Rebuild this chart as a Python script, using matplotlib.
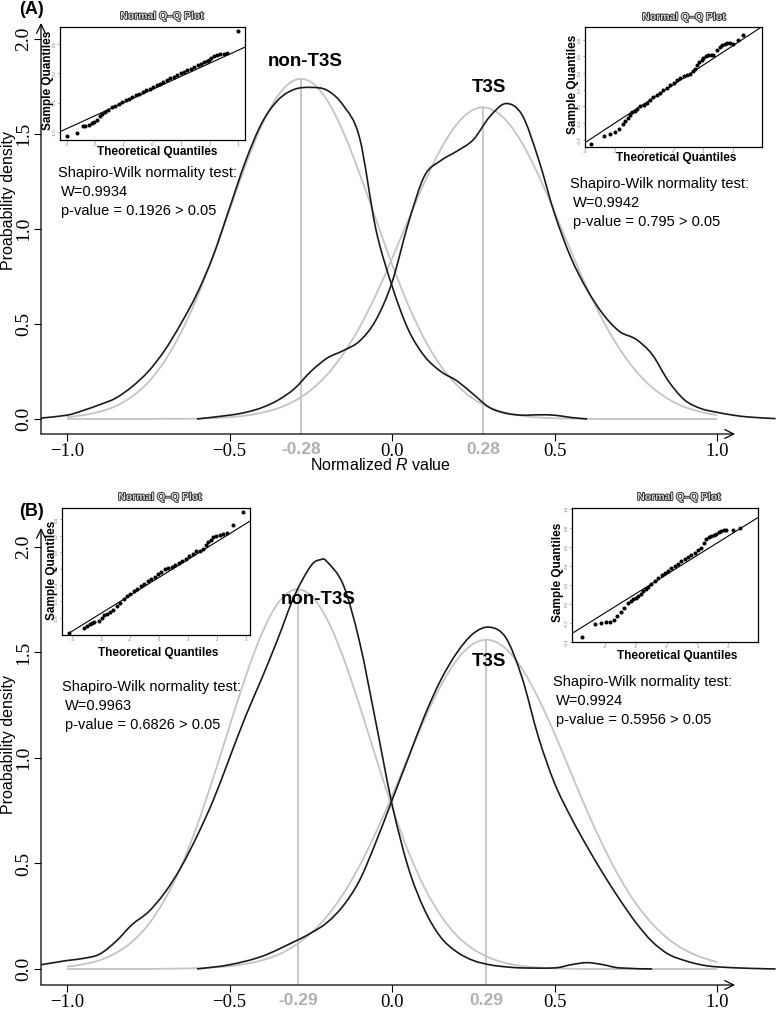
import matplotlib
matplotlib.use('Agg')
import matplotlib.pyplot as plt
import matplotlib.patheffects as pe
from matplotlib.path import Path
from matplotlib.patches import PathPatch

plt.rcParams['font.family'] = ['Liberation Sans', 'DejaVu Sans']
plt.rcParams['mathtext.fontset'] = 'custom'
plt.rcParams['mathtext.it'] = 'Liberation Sans:italic'
plt.rcParams['mathtext.rm'] = 'Liberation Sans'

W, H = 776, 1011

# ---------------- data ----------------
grid = [-1.0, -0.95, -0.9, -0.85, -0.8, -0.75, -0.7, -0.65, -0.6, -0.55, -0.5,
        -0.45, -0.4, -0.35, -0.3, -0.25, -0.2, -0.15, -0.1, -0.05, 0.0,
        0.05, 0.1, 0.15, 0.2, 0.25, 0.3, 0.35, 0.4, 0.45, 0.5,
        0.55, 0.6, 0.65, 0.7, 0.75, 0.8, 0.85, 0.9, 0.95, 1.0]

# panel A: fitted normal curves (grey)
a_norm_non = [0.01, 0.02, 0.038, 0.068, 0.118, 0.194, 0.304, 0.452, 0.639, 0.86, 1.10,
              1.339, 1.549, 1.704, 1.783, 1.774, 1.678, 1.51, 1.292, 1.052, 0.814,
              0.599, 0.419, 0.279, 0.177, 0.106, 0.061, 0.033, 0.017, 0.008, 0.004,
              0.002, 0.001, 0, 0, 0, 0, 0, 0, 0, 0]
a_norm_t3s = [0, 0, 0, 0, 0, 0, 0.001, 0.001, 0.002, 0.005, 0.0095,
              0.018, 0.033, 0.057, 0.095, 0.152, 0.233, 0.343, 0.483, 0.652, 0.845,
              1.048, 1.246, 1.421, 1.553, 1.628, 1.634, 1.573, 1.452, 1.284, 1.089,
              0.885, 0.689, 0.514, 0.369, 0.253, 0.166, 0.105, 0.063, 0.037, 0.020]
# panel A: kernel densities (black)
a_kde_non_x = [-1.08, -1.0, -0.95, -0.9, -0.85, -0.8, -0.75, -0.7, -0.65, -0.6, -0.55,
               -0.5, -0.45, -0.4, -0.35, -0.3, -0.25, -0.2, -0.15, -0.1, -0.05, 0.0,
               0.05, 0.1, 0.15, 0.2, 0.25, 0.3, 0.35, 0.4, 0.45, 0.5, 0.55, 0.6]
a_kde_non_y = [0.005, 0.02, 0.045, 0.075, 0.11, 0.17, 0.25, 0.36, 0.50, 0.66, 0.86,
               1.11, 1.36, 1.56, 1.68, 1.735, 1.745, 1.73, 1.65, 1.48, 1.0, 0.7,
               0.47, 0.33, 0.25, 0.2, 0.13, 0.06, 0.03, 0.02, 0.022, 0.02, 0.008, 0.0]
a_kde_t3s_x = [-0.6, -0.5, -0.45, -0.4, -0.35, -0.3, -0.25, -0.2, -0.15, -0.1, -0.05, 0.0,
               0.05, 0.1, 0.15, 0.2, 0.25, 0.3, 0.35, 0.4, 0.45, 0.5, 0.55, 0.6, 0.65,
               0.7, 0.75, 0.8, 0.85, 0.9, 0.95, 1.0, 1.05, 1.1, 1.18]
a_kde_t3s_y = [0.0, 0.02, 0.035, 0.06, 0.1, 0.16, 0.25, 0.32, 0.36, 0.41, 0.52, 0.72,
               1.03, 1.28, 1.36, 1.41, 1.47, 1.59, 1.66, 1.6, 1.37, 1.08, 0.85, 0.68, 0.55,
               0.46, 0.42, 0.34, 0.2, 0.10, 0.055, 0.035, 0.02, 0.01, 0.002]
a_means = [-0.28, 0.28]
a_peaks = [1.79, 1.64]

# panel B
b_norm_non = [0.011, 0.022, 0.041, 0.075, 0.129, 0.210, 0.327, 0.482, 0.679, 0.907, 1.150,
              1.388, 1.592, 1.736, 1.798, 1.771, 1.658, 1.476, 1.248, 1.004, 0.767,
              0.557, 0.385, 0.253, 0.157, 0.094, 0.053, 0.028, 0.014, 0.007, 0.003,
              0.001, 0, 0, 0, 0, 0, 0, 0, 0, 0]
b_norm_t3s = [0, 0, 0, 0, 0, 0, 0.001, 0.002, 0.004, 0.007, 0.013,
              0.024, 0.041, 0.068, 0.110, 0.169, 0.250, 0.356, 0.489, 0.646, 0.821,
              1.005, 1.184, 1.343, 1.466, 1.541, 1.559, 1.518, 1.423, 1.283, 1.115,
              0.931, 0.749, 0.581, 0.433, 0.311, 0.215, 0.142, 0.091, 0.056, 0.033]
b_kde_non_x = [-1.08, -1.0, -0.95, -0.9, -0.85, -0.8, -0.75, -0.7, -0.65, -0.6,
               -0.55, -0.5, -0.45, -0.4, -0.35, -0.3, -0.25, -0.22, -0.2, -0.15,
               -0.1, -0.05, 0.0, 0.05, 0.1, 0.15, 0.2, 0.25, 0.3, 0.35,
               0.4, 0.5, 0.55, 0.6, 0.65, 0.7, 0.8]
b_kde_non_y = [0.02, 0.04, 0.05, 0.07, 0.13, 0.21, 0.27, 0.36, 0.48, 0.63,
               0.8, 1.0, 1.2, 1.38, 1.57, 1.77, 1.91, 1.94, 1.93, 1.82,
               1.55, 1.17, 0.78, 0.48, 0.28, 0.15, 0.08, 0.04, 0.02, 0.01,
               0.005, 0.005, 0.02, 0.03, 0.02, 0.005, 0.0]
b_kde_t3s_x = [-0.6, -0.5, -0.4, -0.3, -0.25, -0.2, -0.15, -0.1, -0.05,
               0.0, 0.05, 0.1, 0.15, 0.2, 0.25, 0.3, 0.35, 0.4, 0.45, 0.5,
               0.55, 0.6, 0.65, 0.7, 0.75, 0.8, 0.85, 0.9, 0.95, 1.0, 1.1, 1.18]
b_kde_t3s_y = [0.0, 0.02, 0.06, 0.13, 0.17, 0.22, 0.3, 0.42, 0.6,
               0.8, 1.0, 1.2, 1.37, 1.5, 1.59, 1.62, 1.57, 1.38, 1.1, 0.88,
               0.72, 0.58, 0.45, 0.33, 0.22, 0.13, 0.07, 0.04, 0.02, 0.01, 0.003, 0.0]
b_means = [-0.29, 0.29]
b_peaks = [1.80, 1.56]

# Q-Q plots: theoretical quantiles / sample quantiles
qa_non_t = [-3.0, -2.63, -2.44, -2.34, -2.22, -2.13, -2.03, -1.95, -1.84, -1.75,
            -1.66, -1.54, -1.43, -1.3, -1.18, -1.06, -0.94, -0.82, -0.7, -0.58,
            -0.46, -0.34, -0.22, -0.1, 0.02, 0.14, 0.26, 0.38, 0.5, 0.62,
            0.74, 0.86, 0.98, 1.1, 1.22, 1.34, 1.46, 1.58, 1.7,
            1.8, 1.9, 1.98, 2.06, 2.15, 2.25, 2.36, 2.48, 2.59, 2.98]
qa_non_s = [-1.06, -1.02, -0.89, -0.885, -0.875, -0.85, -0.82, -0.79, -0.73, -0.69,
            -0.65, -0.615, -0.58, -0.55, -0.52, -0.49, -0.46, -0.435, -0.405, -0.375,
            -0.35, -0.32, -0.29, -0.26, -0.235, -0.205, -0.175, -0.15, -0.12, -0.09,
            -0.065, -0.035, -0.005, 0.02, 0.05, 0.075, 0.10, 0.13, 0.16,
            0.18, 0.2, 0.22, 0.25, 0.29, 0.31, 0.32, 0.33, 0.34, 0.72]
qa_t3s_t = [-2.79, -2.36, -2.14, -2.0, -1.86, -1.71, -1.63, -1.55, -1.48, -1.41,
            -1.32, -1.24, -1.12, -1.01, -0.9, -0.79, -0.68, -0.56, -0.45, -0.34,
            -0.22, -0.11, 0.0, 0.11, 0.22, 0.34, 0.45, 0.56, 0.65, 0.73,
            0.8, 0.88, 0.95, 1.01, 1.1, 1.18, 1.27, 1.35, 1.46, 1.58,
            1.66, 1.75, 1.83, 1.91, 2.03, 2.2, 2.36]
qa_t3s_s = [-0.455, -0.35, -0.33, -0.31, -0.27, -0.21, -0.175, -0.14, -0.1, -0.07,
            -0.05, -0.03, 0.0, 0.01, 0.045, 0.08, 0.11, 0.14, 0.165, 0.19,
            0.225, 0.26, 0.285, 0.31, 0.335, 0.36, 0.375, 0.39, 0.42, 0.45,
            0.49, 0.53, 0.555, 0.58, 0.6, 0.61, 0.615, 0.62, 0.67, 0.71,
            0.73, 0.75, 0.755, 0.76, 0.75, 0.8, 0.85]
qb_non_t = [-3.13, -2.61, -2.48, -2.40, -2.33, -2.26, -2.09, -1.99, -1.92,
            -1.8, -1.69, -1.58, -1.46, -1.35, -1.23, -1.11, -1.0, -0.88, -0.76,
            -0.64, -0.52, -0.4, -0.28, -0.16, -0.04, 0.08, 0.2, 0.32, 0.44,
            0.56, 0.68, 0.8, 0.92, 1.04, 1.16, 1.28, 1.4,
            1.53, 1.62, 1.70, 1.78, 1.87, 1.96, 2.10, 2.2, 2.33, 2.56, 2.91]
qb_non_s = [-0.99, -0.93, -0.9, -0.87, -0.86, -0.85, -0.84, -0.8, -0.77,
            -0.75, -0.73, -0.70, -0.66, -0.615, -0.57, -0.535, -0.505, -0.475, -0.445,
            -0.415, -0.385, -0.355, -0.325, -0.3, -0.27, -0.24, -0.21, -0.19, -0.175,
            -0.155, -0.13, -0.11, -0.08, -0.05, -0.02, 0.01, 0.02,
            0.04, 0.09, 0.13, 0.15, 0.18, 0.2, 0.21, 0.22, 0.24, 0.33, 0.49]
qb_t3s_t = [-2.74, -2.31, -2.13, -1.96, -1.83, -1.70, -1.59, -1.48, -1.38, -1.24,
            -1.16, -1.08, -1.0, -0.91, -0.84, -0.77, -0.68, -0.59, -0.49, -0.38,
            -0.27, -0.16, -0.05, 0.05, 0.16, 0.27, 0.37, 0.48, 0.59, 0.70,
            0.8, 0.91, 1.02, 1.13, 1.21, 1.29, 1.37, 1.45, 1.53, 1.61,
            1.69, 1.77, 1.85, 1.94, 2.15, 2.37]
qb_t3s_s = [-0.35, -0.21, -0.20, -0.19, -0.19, -0.17, -0.13, -0.08, -0.04, 0.01,
            0.03, 0.05, 0.065, 0.08, 0.11, 0.14, 0.16, 0.18, 0.21, 0.24,
            0.275, 0.31, 0.33, 0.35, 0.375, 0.40, 0.425, 0.45, 0.47, 0.49,
            0.515, 0.54, 0.565, 0.59, 0.64, 0.68, 0.70, 0.72, 0.73, 0.74,
            0.755, 0.77, 0.775, 0.78, 0.78, 0.80]

sw_texts = {
    'A_left': ['Shapiro-Wilk normality test:', 'W=0.9934', 'p-value = 0.1926 > 0.05'],
    'A_right': ['Shapiro-Wilk normality test:', 'W=0.9942', 'p-value = 0.795 > 0.05'],
    'B_left': ['Shapiro-Wilk normality test:', 'W=0.9963', 'p-value = 0.6826 > 0.05'],
    'B_right': ['Shapiro-Wilk normality test:', 'W=0.9924', 'p-value = 0.5956 > 0.05'],
}

GREY = '#c4c4c4'
BLACK = '#1a1a1a'
SERIF = 'Liberation Serif'

fig = plt.figure(figsize=(W / 100, H / 100), dpi=100)


def px_axes(l, t, r, b):
    return fig.add_axes([l / W, 1 - b / H, (r - l) / W, (b - t) / H])


def ftext(x, y, s, **kw):
    fig.text(x / W, 1 - y / H, s, **kw)


def smooth_curve(ax, xs, ys, **kw):
    # draw a smooth curve through the points (Catmull-Rom as cubic Bezier)
    pts = list(zip(xs, ys))
    verts = [pts[0]]
    codes = [Path.MOVETO]
    n = len(pts)
    for i in range(n - 1):
        p0 = pts[max(i - 1, 0)]
        p1 = pts[i]
        p2 = pts[i + 1]
        p3 = pts[min(i + 2, n - 1)]
        c1 = (p1[0] + (p2[0] - p0[0]) / 6, p1[1] + (p2[1] - p0[1]) / 6)
        c2 = (p2[0] - (p3[0] - p1[0]) / 6, p2[1] - (p3[1] - p1[1]) / 6)
        verts += [c1, c2, p2]
        codes += [Path.CURVE4] * 3
    ax.add_patch(PathPatch(Path(verts, codes), fill=False, **kw))


def density_panel(ax, ylim, norm_non, norm_t3s, kde, means, peaks, mlabels):
    ax.set_xlim(-1.08, 1.055)
    ax.set_ylim(*ylim)
    for sp in ax.spines.values():
        sp.set_visible(False)
    ax.annotate('', xy=(1, 0), xytext=(0, 0), xycoords='axes fraction',
                arrowprops=dict(arrowstyle='->', lw=0.9, color='black',
                                shrinkA=0, shrinkB=0, mutation_scale=16))
    ax.annotate('', xy=(0, 1), xytext=(0, 0), xycoords='axes fraction',
                arrowprops=dict(arrowstyle='->', lw=0.9, color='black',
                                shrinkA=0, shrinkB=0, mutation_scale=16))
    for m, p in zip(means, peaks):
        ax.plot([m, m], [ylim[0], p], color=GREY, lw=1.3, zorder=1)
    smooth_curve(ax, grid, norm_non, edgecolor=GREY, lw=1.3, zorder=2)
    smooth_curve(ax, grid, norm_t3s, edgecolor=GREY, lw=1.3, zorder=2)
    for xs, ys in kde:
        smooth_curve(ax, xs, ys, edgecolor=BLACK, lw=1.2, zorder=3, clip_on=False)
    xt = [-1.0, -0.5, 0.0, 0.5, 1.0]
    ax.set_xticks(xt, ['\u22121.0', '\u22120.5', '0.0', '0.5', '1.0'],
                  fontfamily=SERIF, fontsize=13.5)
    yt = [0.0, 0.5, 1.0, 1.5, 2.0]
    ax.set_yticks(yt, ['0.0', '0.5', '1.0', '1.5', '2.0'], fontfamily=SERIF,
                  fontsize=14, rotation=90, va='center')
    ax.tick_params(direction='out', length=5, width=0.8, pad=1.5)
    for m, lab in zip(means, mlabels):
        ax.annotate(lab, xy=(m, 0), xycoords=('data', 'axes fraction'),
                    xytext=(0, -11.5), textcoords='offset points',
                    ha='center', va='center', fontsize=12.5, fontweight='bold',
                    color='#b0b0b0')
    ax.patch.set_alpha(0)


def qq_inset(box, t, s, xlim, ylim, line, xt, yt):
    ax = px_axes(*box)
    ax.plot(line[0], line[1], color='black', lw=0.8)
    ax.plot(t, s, 'o', color='black', ms=2.9, mew=0)
    ax.set_xlim(*xlim)
    ax.set_ylim(*ylim)
    ax.set_xticks(xt, [str(v) for v in xt])
    ax.set_yticks(yt, ['%.1f' % v for v in yt], rotation=90, va='center')
    ax.tick_params(length=1.5, width=0.5, labelsize=3.2, pad=1, colors='#777')
    for sp in ax.spines.values():
        sp.set_linewidth(0.9)
    return ax


def sw_block(x, y, lines):
    ftext(x, y, lines[0], fontsize=10.5, va='center')
    ftext(x + 3, y + 19, lines[1], fontsize=10.5, va='center')
    ftext(x + 3, y + 38, lines[2], fontsize=10.5, va='center')


title_fx = [pe.withStroke(linewidth=1.2, foreground='#222')]


def qq_labels(tx, ty, bx, by, sx, sy):
    ftext(tx, ty, 'Normal Q\u2013Q Plot', fontsize=7.5, fontweight='bold',
          color='#d8d8d8', ha='center', va='center', path_effects=title_fx)
    ftext(bx, by, 'Theoretical Quantiles', fontsize=8.5, fontweight='bold',
          ha='center', va='center')
    ftext(sx, sy, 'Sample Quantiles', fontsize=8.5, fontweight='bold',
          ha='center', va='center', rotation=90)


# ---------------- panel A ----------------
axA = px_axes(41, 23, 735, 434)
density_panel(axA, (-0.079, 2.084), a_norm_non, a_norm_t3s,
              [(a_kde_non_x, a_kde_non_y), (a_kde_t3s_x, a_kde_t3s_y)],
              a_means, a_peaks, ['-0.28', '0.28'])
ftext(32, 10, '(A)', fontsize=13, fontweight='bold', ha='center', va='center')
ftext(305, 62, 'non-T3S', fontsize=13.5, fontweight='bold', ha='center', va='center')
ftext(489, 88, 'T3S', fontsize=13.5, fontweight='bold', ha='center', va='center')
ftext(380, 465, 'Normalized $R$ value', fontsize=11.5, ha='center', va='center')
ftext(9, 200, 'Proabability density', fontsize=11.5, ha='center', va='center', rotation=90)
sw_block(58, 173, sw_texts['A_left'])
sw_block(570, 184, sw_texts['A_right'])

qq_inset((60, 27, 245, 140), qa_non_t, qa_non_s, (-3.23, 3.23), (-1.13, 0.78),
         ([-3.23, 3.23], [-0.99, 0.44]), [-3, -2, -1, 0, 1, 2, 3], [-1.0, -0.5, 0.0, 0.5])
qq_labels(162, 16, 157, 152, 48, 80)
qq_inset((585, 27, 762, 147), qa_t3s_t, qa_t3s_s, (-2.97, 3.0), (-0.487, 0.95),
         ([-2.98, 2.98], [-0.43, 0.95]), [-3, -2, -1, 0, 1, 2],
         [-0.4, -0.2, 0.0, 0.2, 0.4, 0.6, 0.8])
qq_labels(684, 17, 676, 158, 573, 84)

# ---------------- panel B ----------------
axB = px_axes(41, 528, 735, 985)
density_panel(axB, (-0.076, 2.09), b_norm_non, b_norm_t3s,
              [(b_kde_non_x, b_kde_non_y), (b_kde_t3s_x, b_kde_t3s_y)],
              b_means, b_peaks, ['-0.29', '0.29'])
ftext(32, 512, '(B)', fontsize=13, fontweight='bold', ha='center', va='center')
ftext(318, 600, 'non-T3S', fontsize=13.5, fontweight='bold', ha='center', va='center')
ftext(489, 662, 'T3S', fontsize=13.5, fontweight='bold', ha='center', va='center')
ftext(9, 745, 'Proabability density', fontsize=11.5, ha='center', va='center', rotation=90)
sw_block(62, 687, sw_texts['B_left'])
sw_block(553, 682, sw_texts['B_right'])

qq_inset((62, 508, 250, 635), qb_non_t, qb_non_s, (-3.36, 3.14), (-1.01, 0.54),
         ([-3.13, 3.14], [-0.99, 0.38]), [-3, -2, -1, 0, 1, 2, 3],
         [-0.8, -0.6, -0.4, -0.2, 0.0, 0.2, 0.4])
qq_labels(160, 497, 158, 653, 52, 570)
qq_inset((572, 508, 758, 642), qb_t3s_t, qb_t3s_s, (-3.06, 2.96), (-0.40, 1.01),
         ([-3.06, 2.96], [-0.31, 0.91]), [-2, -1, 0, 1, 2],
         [-0.4, -0.2, 0.0, 0.2, 0.4, 0.6, 0.8, 1.0])
qq_labels(679, 497, 677, 656, 558, 572)

fig.savefig('out.png', dpi=100)
